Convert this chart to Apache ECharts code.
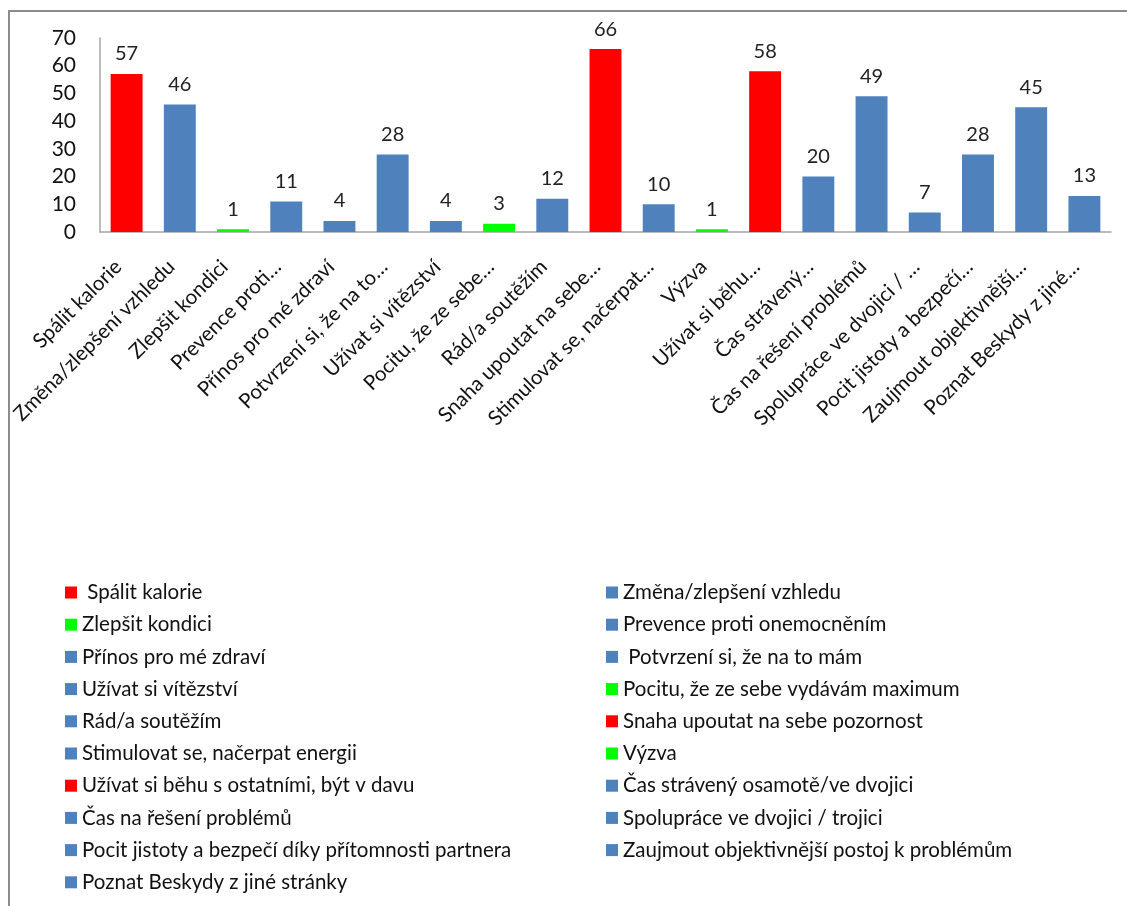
<!DOCTYPE html>
<html>
<head>
<meta charset="utf-8">
<title>Motivace</title>
<script src="https://cdn.jsdelivr.net/npm/echarts@6/dist/echarts.min.js"></script>
<style>
  html, body { margin: 0; padding: 0; background: #fff; }
  #chart { width: 1127px; height: 906px; }
</style>
</head>
<body>
<div id="chart"></div>
<script>
// názvy kategorií (jak jsou v legendě)
const names = [
  ' Spálit kalorie', 'Změna/zlepšení vzhledu', 'Zlepšit kondici', 'Prevence proti onemocněním',
  'Přínos pro mé zdraví', ' Potvrzení si, že na to mám', 'Užívat si vítězství',
  'Pocitu, že ze sebe vydávám maximum', 'Rád/a soutěžím', 'Snaha upoutat na sebe pozornost',
  'Stimulovat se, načerpat energii', 'Výzva', 'Užívat si běhu s ostatními, být v davu',
  'Čas strávený osamotě/ve dvojici', 'Čas na řešení problémů', 'Spolupráce ve dvojici / trojici',
  'Pocit jistoty a bezpečí díky přítomnosti partnera', 'Zaujmout objektivnější postoj k problémům',
  'Poznat Beskydy z jiné stránky'
];

// popisky osy x (zkrácené)
const axisLabels = [
  'Spálit kalorie', 'Změna/zlepšení vzhledu', 'Zlepšit kondici', 'Prevence proti…',
  'Přínos pro mé zdraví', 'Potvrzení si, že na to…', 'Užívat si vítězství', 'Pocitu, že ze sebe…',
  'Rád/a soutěžím', 'Snaha upoutat na sebe…', 'Stimulovat se, načerpat…', 'Výzva',
  'Užívat si běhu…', 'Čas strávený…', 'Čas na řešení problémů', 'Spolupráce ve dvojici / …',
  'Pocit jistoty a bezpečí…', 'Zaujmout objektivnější…', 'Poznat Beskydy z jiné…'
];

const values = [57, 46, 1, 11, 4, 28, 4, 3, 12, 66, 10, 1, 58, 20, 49, 7, 28, 45, 13];

// barva každého sloupce: r = červená, g = zelená, b = modrá
const colorKeys = ['r', 'b', 'g', 'b', 'b', 'b', 'b', 'g', 'b', 'r', 'b', 'g', 'r', 'b', 'b', 'b', 'b', 'b', 'b'];
const palette = { r: '#FF0000', g: '#00FF00', b: '#4F81BD' };

const yTicks = { min: 0, max: 70, interval: 10 };

const font = 'Lato, "Open Sans", sans-serif';

const chart = echarts.init(document.getElementById('chart'));

// každá kategorie jako samostatná série (kvůli legendě), naskládané na sebe
const series = names.map((n, i) => ({
  name: n,
  type: 'bar',
  stack: 'all',
  barWidth: '60%',
  itemStyle: { color: palette[colorKeys[i]] },
  label: {
    show: true,
    position: 'top',
    distance: 10,
    color: '#222',
    fontSize: 20,
    fontFamily: font
  },
  data: values.map((v, j) => (j === i ? v : '-'))
}));

const leftNames = names.filter((_, i) => i % 2 === 0);
const rightNames = names.filter((_, i) => i % 2 === 1);

const legendBase = {
  orient: 'vertical',
  top: 577,
  height: 320,
  icon: 'rect',
  itemWidth: 12,
  itemHeight: 12,
  itemGap: 11.2,
  selectedMode: false,
  textStyle: { fontSize: 20.5, color: '#111', fontFamily: font }
};

const option = {
  animation: false,
  backgroundColor: '#fff',
  graphic: [{
    type: 'rect',
    shape: { x: 9, y: 11, width: 1300, height: 1000 },
    style: { fill: 'none', stroke: '#8c8c8c', lineWidth: 2 },
    silent: true
  }],
  legend: [
    Object.assign({}, legendBase, { left: 60, data: leftNames }),
    Object.assign({}, legendBase, { left: 601, data: rightNames })
  ],
  grid: { left: 100, right: 16, top: 38, bottom: 674 },
  xAxis: {
    type: 'category',
    data: axisLabels,
    axisLine: { lineStyle: { color: '#A6A6A6', width: 1.5 } },
    axisTick: { show: false },
    axisLabel: {
      interval: 0,
      rotate: 45,
      margin: 23,
      padding: [0, 12, 0, 0],
      fontSize: 20.5,
      color: '#111',
      fontFamily: font
    }
  },
  yAxis: {
    type: 'value',
    min: yTicks.min,
    max: yTicks.max,
    interval: yTicks.interval,
    splitLine: { show: false },
    axisLine: { show: true, lineStyle: { color: '#A6A6A6', width: 1.5 } },
    axisTick: { show: false },
    axisLabel: { margin: 24, fontSize: 21, color: '#111', fontFamily: font }
  },
  series: series
};

chart.setOption(option);
</script>
</body>
</html>
